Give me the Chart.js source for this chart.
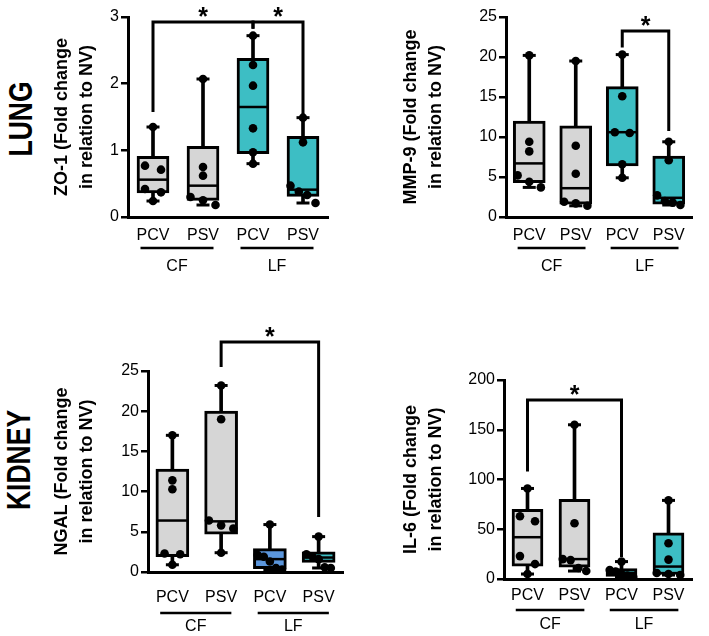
<!DOCTYPE html>
<html>
<head>
<meta charset="utf-8">
<script src="https://cdn.jsdelivr.net/npm/chart.js@4/dist/chart.umd.min.js"></script>
<style>
html,body{margin:0;padding:0;background:#fff;}
#wrap{position:relative;width:709px;height:636px;overflow:hidden;background:#fff;}
.pan{position:absolute;}
.row{position:absolute;font-family:"Liberation Sans",Arial,sans-serif;font-weight:bold;font-size:34px;color:#000;transform:translate(-50%,-50%) rotate(-90deg) scaleX(0.78);white-space:nowrap;line-height:1;}
</style>
</head>
<body>
<div id="wrap">
  <div class="row" style="left:20px;top:119px">LUNG</div>
  <div class="row" style="left:18px;top:460px">KIDNEY</div>
  <div class="pan" style="left:0;top:0;width:345px;height:290px"><canvas id="c1"></canvas></div>
  <div class="pan" style="left:345px;top:0;width:364px;height:290px"><canvas id="c2"></canvas></div>
  <div class="pan" style="left:0;top:300px;width:360px;height:336px"><canvas id="c3"></canvas></div>
  <div class="pan" style="left:345px;top:300px;width:364px;height:336px"><canvas id="c4"></canvas></div>
</div>
<script>
// ---------- shared categories ----------
const categories = ['PCV', 'PSV', 'PCV', 'PSV'];
const groupLabels = ['CF', 'LF'];
const groupFrom = [0, 2];
const groupTo = [1, 3];

// ---------- ZO-1 (lung) ----------
const zo1Points = [
  [1.35, 0.77, 0.71, 0.42, 0.37, 0.24],
  [2.07, 0.75, 0.62, 0.30, 0.25, 0.18],
  [2.72, 2.28, 1.97, 1.33, 0.97, 0.80],
  [1.49, 1.12, 0.47, 0.38, 0.33, 0.21]
];
const zo1Min = [0.24, 0.18, 0.80, 0.21];
const zo1Q1 = [0.36, 0.25, 0.95, 0.31];
const zo1Median = [0.56, 0.47, 1.65, 0.41];
const zo1Q3 = [0.91, 1.06, 2.38, 1.21];
const zo1Max = [1.35, 2.07, 2.72, 1.49];
const zo1Brackets = [[0, 2, 2.925, 1.575, 2.825], [2, 3, 2.925, 2.825, 1.525]];

// ---------- MMP-9 (lung) ----------
const mmp9Points = [
  [20.2, 9.4, 8.2, 5.2, 4.4, 3.7],
  [19.5, 8.9, 5.4, 1.9, 1.7, 1.4],
  [20.3, 15.1, 10.6, 10.5, 6.6, 4.9],
  [9.4, 7.1, 2.7, 2.0, 1.8, 1.5]
];
const mmp9Min = [3.7, 1.4, 4.9, 1.5];
const mmp9Q1 = [4.3, 1.6, 6.4, 1.6];
const mmp9Median = [6.7, 3.6, 10.6, 2.4];
const mmp9Q3 = [12.0, 11.4, 16.3, 7.6];
const mmp9Max = [20.2, 19.5, 20.3, 9.4];
const mmp9Brackets = [[2, 3, 23.25, 21.2, 10.75]];

// ---------- NGAL (kidney) ----------
const ngalPoints = [
  [17.0, 11.4, 10.3, 2.3, 2.2, 0.9],
  [23.2, 19.0, 6.4, 5.8, 5.4, 2.4],
  [5.9, 2.1, 1.9, 1.3, 0.5, 0.3],
  [4.4, 2.2, 1.9, 1.6, 0.6, 0.5]
];
const ngalMin = [0.9, 2.4, 0.3, 0.5];
const ngalQ1 = [1.9, 4.7, 0.4, 1.2];
const ngalMedian = [6.4, 6.3, 1.6, 1.8];
const ngalQ3 = [12.8, 20.0, 2.9, 2.5];
const ngalMax = [17.0, 23.2, 5.9, 4.4];
const ngalBrackets = [[1, 3, 28.6, 25.5, 6.84]];

// ---------- IL-6 (kidney) ----------
const il6Points = [
  [91, 63, 58, 23, 15, 5],
  [155, 56, 20, 19, 11, 8],
  [17.5, 9, 7.5, 5, 3.5, 2],
  [79, 36, 19.5, 6, 5, 4]
];
const il6Min = [5, 8, 2, 4];
const il6Q1 = [13, 12, 2.5, 4.5];
const il6Median = [42, 20, 6, 12.5];
const il6Q3 = [70, 80, 10.5, 46.5];
const il6Max = [91, 155, 17.5, 79];
const il6Brackets = [[0, 2, 180, 108, 22]];

// ---------- styles ----------
const GREY = '#d6d6d6';
const TEAL = '#3dbec4';
const BLUE = '#5b96dc';
const SANS = '"Liberation Sans",Arial,sans-serif';
const TICK_SIZE = 16;

function jitter(vals, yMax) {
  const thr = yMax * 0.042;
  const sorted = vals.map((v, i) => ({v, i})).sort((a, b) => b.v - a.v);
  const offs = new Array(vals.length).fill(0);
  let k = 0;
  while (k < sorted.length) {
    let j = k;
    while (j + 1 < sorted.length && sorted[j].v - sorted[j + 1].v < thr) j++;
    const n = j - k + 1;
    const sp = n > 1 ? Math.min(0.32, 0.5 / (n - 1)) : 0;
    for (let m = 0; m < n; m++) offs[sorted[k + m].i] = (m - (n - 1) / 2) * sp;
    k = j + 1;
  }
  return offs;
}

const bracketPlugin = {
  id: 'brackets',
  afterDatasetsDraw(chart, args, opts) {
    const ctx = chart.ctx, xs = chart.scales.x, ys = chart.scales.y;
    ctx.save();
    ctx.strokeStyle = '#000';
    ctx.fillStyle = '#000';
    ctx.lineWidth = 3;
    ctx.lineJoin = 'miter';
    ctx.lineCap = 'butt';
    (opts.list || []).forEach(b => {
      const x1 = xs.getPixelForValue(b[0]), x2 = xs.getPixelForValue(b[1]);
      const yT = ys.getPixelForValue(b[2]);
      ctx.beginPath();
      ctx.moveTo(x1, ys.getPixelForValue(b[3]));
      ctx.lineTo(x1, yT);
      ctx.lineTo(x2, yT);
      ctx.lineTo(x2, ys.getPixelForValue(b[4]));
      ctx.stroke();
      ctx.font = 'bold 25px ' + SANS;
      ctx.textAlign = 'center';
      ctx.textBaseline = 'alphabetic';
      ctx.fillText('*', (x1 + x2) / 2, yT + 3);
    });
    // group underlines + labels
    const ca = chart.chartArea;
    ctx.lineWidth = 2.5;
    ctx.font = TICK_SIZE + 'px ' + SANS;
    ctx.textAlign = 'center';
    ctx.textBaseline = 'middle';
    groupLabels.forEach((g, i) => {
      const xl = xs.getPixelForValue(groupFrom[i] - 0.25);
      const xr = xs.getPixelForValue(groupTo[i] + 0.21);
      const ly = ca.bottom + opts.ulOff;
      ctx.beginPath();
      ctx.moveTo(xl, ly);
      ctx.lineTo(xr, ly);
      ctx.stroke();
      ctx.fillText(g, (xl + xr) / 2, ca.bottom + opts.grpOff);
    });
    ctx.restore();
  }
};

function makePanel(id, P) {
  const offs = P.points.map(arr => jitter(arr, P.yMax));
  const pts = [];
  P.points.forEach((arr, i) => arr.forEach((v, k) => pts.push({x: i + offs[i][k], y: v})));
  const idx = categories.map((_, i) => i);
  return new Chart(document.getElementById(id), {
    type: 'bar',
    data: {
      datasets: [
        {type: 'scatter', order: 0, data: pts, pointRadius: 4.3, pointBackgroundColor: '#000', pointBorderWidth: 0, pointHoverRadius: 4.3},
        {type: 'scatter', order: 1, data: idx.map(i => ({x: i, y: P.median[i]})), pointStyle: 'line', pointRadius: 14.5, borderColor: '#000', pointBorderWidth: 2.5, pointBorderColor: '#000'},
        {type: 'bar', order: 2, grouped: false, data: idx.map(i => ({x: i, y: [P.q1[i], P.q3[i]]})), backgroundColor: P.colors, borderColor: '#000', borderWidth: 3, borderSkipped: false, barThickness: P.boxW},
        {type: 'scatter', order: 3, data: idx.map(i => ({x: i, y: P.max[i]})).concat(idx.map(i => ({x: i, y: P.min[i]}))), pointStyle: 'line', pointRadius: 6.5, pointBorderWidth: 3, pointBorderColor: '#000', borderColor: '#000'},
        {type: 'bar', order: 4, grouped: false, data: idx.map(i => ({x: i, y: [P.min[i], P.max[i]]})), backgroundColor: '#000', borderWidth: 0, barThickness: 3}
      ]
    },
    options: {
      responsive: true,
      maintainAspectRatio: false,
      animation: false,
      events: [],
      layout: {padding: {top: P.padTop, right: P.padRight, left: 0, bottom: 0}},
      plugins: {
        legend: {display: false},
        tooltip: {enabled: false},
        brackets: {list: P.brackets, ulOff: P.ulOff, grpOff: P.grpOff}
      },
      scales: {
        x: {
          type: 'linear', min: -0.5, max: 3.5, offset: false,
          grid: {display: false, drawTicks: false},
          border: {display: true, color: '#000', width: 3},
          ticks: {
            font: {family: SANS, size: TICK_SIZE}, color: '#000', padding: P.xTickPad,
            autoSkip: false, maxRotation: 0,
            callback: v => (categories[v] !== undefined ? categories[v] : '')
          },
          afterBuildTicks: s => { s.ticks = idx.map(i => ({value: i})); },
          afterFit: s => { s.height = P.xAxisH; }
        },
        y: {
          min: 0, max: P.yMax,
          ticks: {stepSize: P.step, font: {family: SANS, size: TICK_SIZE}, color: '#000', padding: 2},
          grid: {display: true, drawOnChartArea: false, drawTicks: true, tickLength: 7, lineWidth: 2.5, tickWidth: 2.5, tickColor: '#000', color: '#000'},
          border: {display: true, color: '#000', width: 3},
          title: {display: true, text: P.title, color: '#000', font: {family: SANS, size: 18, weight: 'bold', lineHeight: 1.4}, padding: {top: P.titlePad, bottom: 0}},
          afterFit: s => { s.width = P.yAxisW; }
        }
      }
    },
    plugins: [bracketPlugin]
  });
}

makePanel('c1', {
  points: zo1Points, min: zo1Min, q1: zo1Q1, median: zo1Median, q3: zo1Q3, max: zo1Max, brackets: zo1Brackets,
  colors: [GREY, GREY, TEAL, TEAL], yMax: 3, step: 1,
  title: ['ZO-1 (Fold change', 'in relation to NV)'],
  padTop: 17, padRight: 17, yAxisW: 128, xAxisH: 73, titlePad: 49, boxW: 32,
  xTickPad: 9, ulOff: 31, grpOff: 50
});
makePanel('c2', {
  points: mmp9Points, min: mmp9Min, q1: mmp9Q1, median: mmp9Median, q3: mmp9Q3, max: mmp9Max, brackets: mmp9Brackets,
  colors: [GREY, GREY, TEAL, TEAL], yMax: 25, step: 5,
  title: ['MMP-9 (Fold change', 'in relation to NV)'],
  padTop: 17, padRight: 6, yAxisW: 161, xAxisH: 73, titlePad: 53, boxW: 32,
  xTickPad: 9, ulOff: 31, grpOff: 50
});
makePanel('c3', {
  points: ngalPoints, min: ngalMin, q1: ngalQ1, median: ngalMedian, q3: ngalQ3, max: ngalMax, brackets: ngalBrackets,
  colors: [GREY, GREY, BLUE, TEAL], yMax: 25, step: 5,
  title: ['NGAL (Fold change', 'in relation to NV)'],
  padTop: 71, padRight: 7, yAxisW: 148, xAxisH: 64, titlePad: 49, boxW: 33,
  xTickPad: 16, ulOff: 41, grpOff: 55
});
makePanel('c4', {
  points: il6Points, min: il6Min, q1: il6Q1, median: il6Median, q3: il6Q3, max: il6Max, brackets: il6Brackets,
  colors: [GREY, GREY, TEAL, TEAL], yMax: 200, step: 50,
  title: ['IL-6 (Fold change', 'in relation to NV)'],
  padTop: 80, padRight: 4, yAxisW: 159, xAxisH: 57, titlePad: 53, boxW: 31,
  xTickPad: 7, ulOff: 31, grpOff: 46
});
</script>
</body>
</html>
